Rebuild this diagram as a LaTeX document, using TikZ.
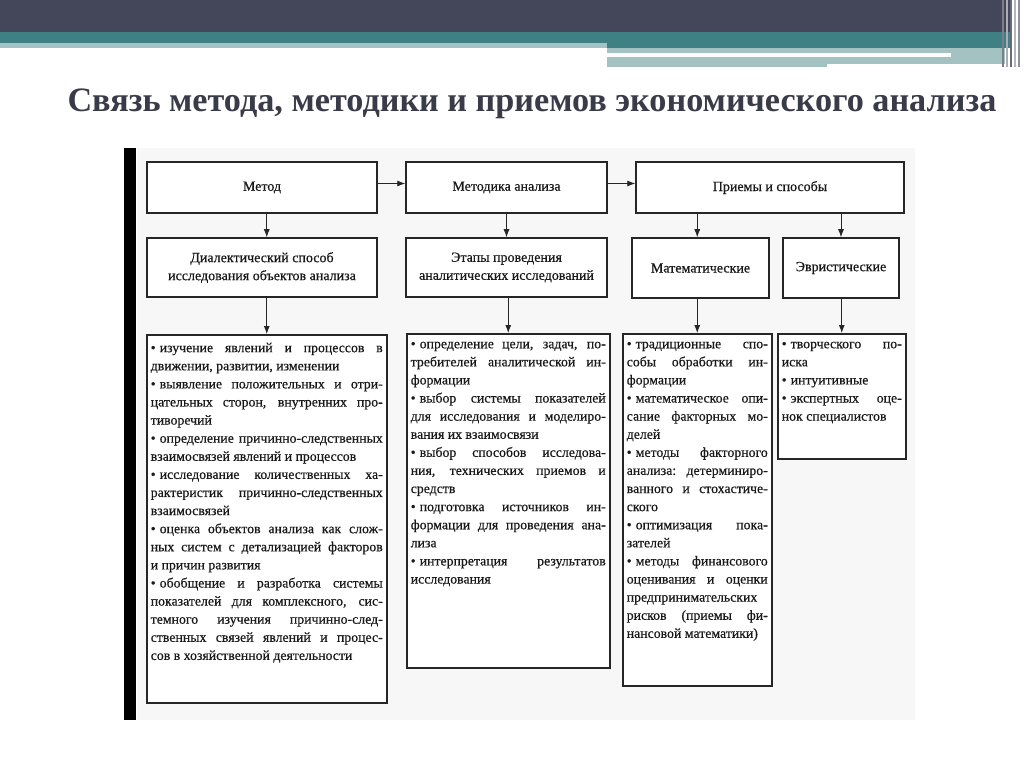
\documentclass[tikz,border=0pt]{standalone}
\usepackage{fontspec}
\setmainfont{Liberation Serif}
\newfontfamily\skanfont[FakeBold=0.5]{Liberation Serif}
\usetikzlibrary{arrows.meta}
\definecolor{kopf}{HTML}{44465A}
\definecolor{biruza}{HTML}{3F8084}
\definecolor{svetlo}{HTML}{A5C2C3}
\definecolor{zagcolor}{HTML}{3A3B48}
% Text im Listenkasten, oben ausgerichtet
\newcommand{\spisoktext}[3]{\parbox[t][#2][t]{#1}{\skanfont\fontsize{13.8}{18.1}\selectfont #3}}
\newcommand{\pt}{•\hspace{0.3em}}
\tikzset{
  blok/.style={draw=black!85,line width=1.5pt,fill=white,align=center,
    font=\skanfont\fontsize{14}{18}\selectfont,text=black!90},
  spisok/.style={draw=black!85,line width=1.5pt,fill=white,anchor=north west,
    inner xsep=4pt,inner ysep=8pt,text=black!90},
  strelka/.style={-{Latex[length=8pt,width=6pt]},line width=0.9pt,black!85}
}
\begin{document}
\begin{tikzpicture}[x=1pt,y=-1pt]
\useasboundingbox (0,0) rectangle (1024,767);
%
% --- Kopfleiste der Folie ---
\fill[white] (0,0) rectangle (1024,767);
\fill[kopf] (0,0) rectangle (1010,32);
\fill[biruza] (0,32) rectangle (1010,48);
\fill[svetlo] (0,43) rectangle (607,48);
\fill[svetlo] (607,48) rectangle (1005,67);
\fill[white] (607,53) rectangle (951,57);
\fill[white] (827,64) rectangle (1005,67);
\foreach \x/\c in {1003/kopf!70,1007/kopf!45,1011/kopf!80,1015/kopf!40,1019/kopf!60}
  \draw[\c,line width=1.2pt] (\x,0) -- (\x,67);
%
% --- Titel ---
\node[font=\fontsize{34.2}{34}\selectfont\bfseries,text=zagcolor,anchor=base]
  (zagolovok) at (532,112) {Связь метода, методики и приемов экономического анализа};
%
% --- Scan-Bereich ---
\fill[black!3] (137,148) rectangle (915,720);
\fill[black] (124,148) rectangle (136,720);
%
% --- Obere Reihe ---
\node[blok,minimum width=230pt,minimum height=51pt] (metod) at (262,187.5) {Метод};
\node[blok,minimum width=201pt,minimum height=51pt] (metodika) at (506.5,187.5) {Методика анализа};
\node[blok,minimum width=268pt,minimum height=51pt] (priemy) at (770,187.5) {Приемы и способы};
%
% --- Zweite Reihe ---
\node[blok,minimum width=230pt,minimum height=59pt] (dialekt) at (262,267.5)
  {Диалектический способ\\исследования объектов анализа};
\node[blok,minimum width=201pt,minimum height=59pt] (etapy) at (506.5,267.5)
  {Этапы проведения\\аналитических исследований};
\node[blok,minimum width=137pt,minimum height=60pt] (matem) at (700.5,268) {Математические};
\node[blok,minimum width=116pt,minimum height=60pt] (evrist) at (841,268) {Эвристические};
%
% --- Listen ---
\node[spisok] (spisok1) at (146,334) {\spisoktext{232pt}{352pt}{%
\pt изучение явлений и процессов в \linebreak движении, развитии, изменении\par
\pt выявление положительных и отри-\linebreak цательных сторон, внутренних про-\linebreak тиворечий\par
\pt определение причинно-следственных \linebreak взаимосвязей явлений и процессов\par
\pt исследование количественных ха-\linebreak рактеристик причинно-следственных \linebreak взаимосвязей\par
\pt оценка объектов анализа как слож-\linebreak ных систем с детализацией факторов \linebreak и причин развития\par
\pt обобщение и разработка системы \linebreak показателей для комплексного, сис-\linebreak темного изучения причинно-след-\linebreak ственных связей явлений и процес-\linebreak сов в хозяйственной деятельности}};
\node[spisok] (spisok2) at (406,333) {\spisoktext{195pt}{318pt}{%
\pt определение цели, задач, по-\linebreak требителей аналитической ин-\linebreak формации\par
\pt выбор системы показателей \linebreak для исследования и моделиро-\linebreak вания их взаимосвязи\par
\pt выбор способов исследова-\linebreak ния, технических приемов и \linebreak средств\par
\pt подготовка источников ин-\linebreak формации для проведения ана-\linebreak лиза\par
\pt интерпретация результатов \linebreak исследования}};
\node[spisok] (spisok3) at (622,333) {\spisoktext{141pt}{336pt}{%
\pt традиционные спо-\linebreak собы обработки ин-\linebreak формации\par
\pt математическое опи-\linebreak сание факторных мо-\linebreak делей\par
\pt методы факторного \linebreak анализа: детерминиро-\linebreak ванного и стохастиче-\linebreak ского\par
\pt оптимизация пока-\linebreak зателей\par
\pt методы финансового \linebreak оценивания и оценки \linebreak предпринимательских \linebreak рисков (приемы фи-\linebreak нансовой математики)}};
\node[spisok] (spisok4) at (777,333) {\spisoktext{120pt}{109pt}{%
\pt творческого по-\linebreak иска\par
\pt интуитивные\par
\pt экспертных оце-\linebreak нок специалистов}};
%
% --- Pfeile ---
\draw[strelka] ([yshift=4pt]metod.east) -- ([yshift=4pt]metodika.west);
\draw[strelka] ([yshift=4pt]metodika.east) -- ([yshift=4pt]priemy.west);
\draw[strelka] (metod.south -| spisok1.north) -- (dialekt.north -| spisok1.north);
\draw[strelka] (metodika) -- (etapy);
\draw[strelka] (priemy.south -| spisok3.north) -- (matem.north -| spisok3.north);
\draw[strelka] (priemy.south -| evrist) -- (evrist);
\draw[strelka] (dialekt.south -| spisok1.north) -- (spisok1.north);
\draw[strelka] (etapy.south -| spisok2.north) -- (spisok2.north);
\draw[strelka] (matem.south -| spisok3.north) -- (spisok3.north);
\draw[strelka] (evrist.south -| spisok4.north) -- (spisok4.north);
\end{tikzpicture}
\end{document}
